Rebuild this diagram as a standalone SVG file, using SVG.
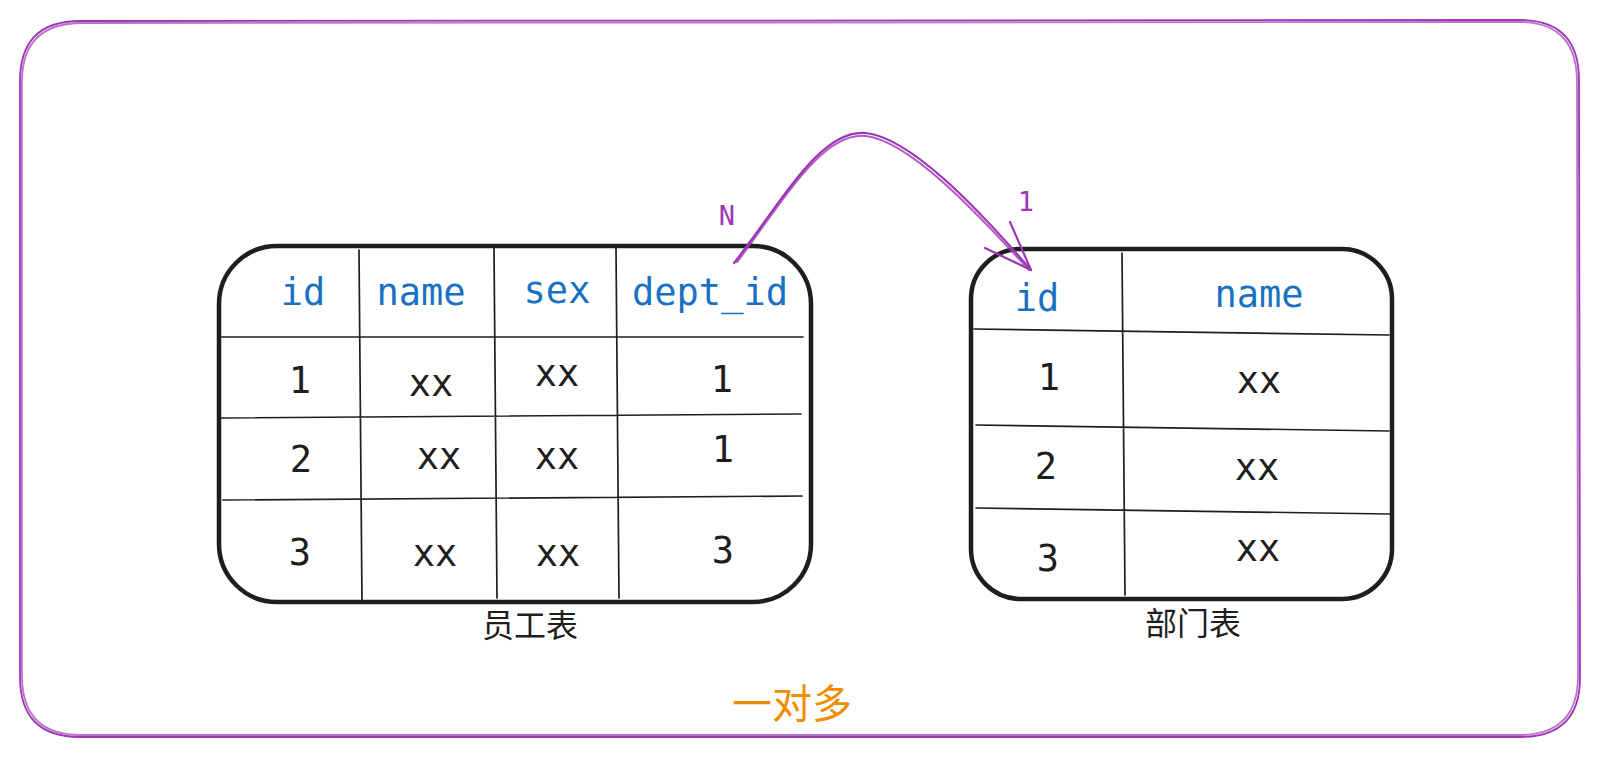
<svg xmlns="http://www.w3.org/2000/svg" width="1600" height="759" viewBox="0 0 1600 759">
<style>
.frame{fill:none;stroke:#9c36b5;stroke-width:1.8;stroke-linecap:round}
.tbl{fill:#fff;stroke:#1e1e1e;stroke-width:4.5;stroke-linejoin:round}
.grid{fill:none;stroke:#1e1e1e;stroke-width:1.7;stroke-linecap:round}
.hd{font-family:"DejaVu Sans Mono","Liberation Mono",monospace;font-size:37px;fill:#1971c2;text-anchor:middle}
.val{font-family:"DejaVu Sans Mono","Liberation Mono",monospace;font-size:37px;fill:#1e1e1e;text-anchor:middle}
.cap{font-family:"Noto Sans CJK SC","Noto Sans",sans-serif;font-size:32px;fill:#1e1e1e;text-anchor:middle}
.title{font-family:"Noto Sans CJK SC","Noto Sans",sans-serif;font-size:40px;fill:#f08c00;text-anchor:middle}
.lbl{font-family:"DejaVu Sans Mono","Liberation Mono",monospace;font-size:27px;fill:#9c36b5;text-anchor:middle}
.arrow{fill:none;stroke:#9c36b5;stroke-width:2.2;stroke-linecap:round;stroke-linejoin:round}
</style>
<rect width="1600" height="759" fill="#fff"/>
<g id="frame">
<path class="frame" d="M80 21 L1520 20 Q1579 20 1579 80 L1580 678 Q1580 737 1520 737 L80 737 Q20 737 20 677 L20 81 Q20 21 80 21 Z"/>
<path class="frame" d="M82 23 L1521 22 Q1577 23 1577 82 L1578 676 Q1578 735 1519 735 L81 735 Q22 735 22 676 L22 80 Q23 23 82 23 Z" opacity="0.7"/>
</g>
<g id="employee-table">
<rect class="tbl" x="219" y="246" width="592" height="356" rx="58" ry="58"/>
<path class="grid" d="M220 337 L803 337 M221 418 L801 414 M223 500 L802 496 M359 250 L362 602 M494 248 L497 598 M616 248 L619 598"/>
<text class="hd" x="303" y="305">id</text>
<text class="hd" x="421" y="305">name</text>
<text class="hd" x="557" y="303">sex</text>
<text class="hd" x="710" y="305">dept_id</text>
<text class="val" x="300" y="393">1</text>
<text class="val" x="431" y="396">xx</text>
<text class="val" x="557" y="386">xx</text>
<text class="val" x="722" y="392">1</text>
<text class="val" x="301" y="472">2</text>
<text class="val" x="439" y="469">xx</text>
<text class="val" x="557" y="469">xx</text>
<text class="val" x="723" y="462">1</text>
<text class="val" x="300" y="565">3</text>
<text class="val" x="435" y="566">xx</text>
<text class="val" x="558" y="566">xx</text>
<text class="val" x="723" y="563">3</text>
<text class="cap" x="530" y="637">员工表</text>
</g>
<g id="dept-table">
<rect class="tbl" x="971" y="249" width="421" height="350" rx="50" ry="50"/>
<path class="grid" d="M974 329 L1389 335 M976 425 L1389 431 M976 508 L1390 514 M1122 253 L1125 595"/>
<text class="hd" x="1037" y="311">id</text>
<text class="hd" x="1259" y="307">name</text>
<text class="val" x="1049" y="390">1</text>
<text class="val" x="1259" y="393">xx</text>
<text class="val" x="1046" y="479">2</text>
<text class="val" x="1257" y="480">xx</text>
<text class="val" x="1048" y="571">3</text>
<text class="val" x="1258" y="561">xx</text>
<text class="cap" x="1193" y="635">部门表</text>
</g>
<g id="connectors">
<path class="arrow" d="M734 263 C 780 205, 820 128, 866 133 C 910 138, 975 205, 1031 270"/>
<path class="arrow" d="M737 262 C 782 203, 822 131, 866 136 C 908 141, 972 207, 1029 270" opacity="0.8"/>
<path class="arrow" d="M1031 270 L1010 222 M1031 270 L985 248"/>
<text class="lbl" x="727" y="225">N</text>
<text class="lbl" x="1026" y="211">1</text>
</g>
<text class="title" x="792" y="718">一对多</text>
</svg>
